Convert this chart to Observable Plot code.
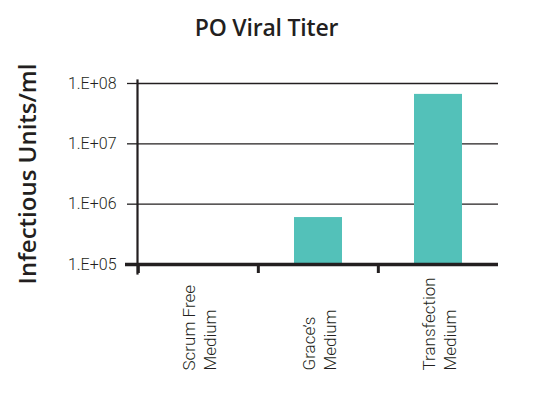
<!DOCTYPE html>
<html>
<head>
<meta charset="utf-8">
<script src="https://cdn.jsdelivr.net/npm/d3@7"></script>
<script src="https://cdn.jsdelivr.net/npm/@observablehq/plot@0.6"></script>
<style>
  html, body { margin: 0; padding: 0; background: #fff; }
  #wrap { width: 543px; height: 395px; position: relative; font-family: "Open Sans", sans-serif; color: #231f20; }
  #title { width: 533px; height: 50px; text-align: center; font-size: 23px; font-weight: 600; line-height: 54px; letter-spacing: -0.2px; }
</style>
</head>
<body>
<div id="wrap">
  <div id="title">PO Viral Titer</div>
  <div id="chart"></div>
</div>
<script>
const categories = ["Scrum Free Medium", "Grace’s Medium", "Transfection Medium"];
const categoryLabels = ["Scrum Free\nMedium", "Grace’s\nMedium", "Transfection\nMedium"];
const titers = [null, 6.0e5, 6.6e7];
const yTicks = [1e5, 1e6, 1e7, 1e8];
const yTickLabels = ["1.E+05", "1.E+06", "1.E+07", "1.E+08"];
const yLabel = "Infectious Units/ml";

const data = categories.map((c, i) => ({category: c, titer: titers[i]})).filter(d => d.titer != null);

const ink = "#231f20";
const W = 543, H = 345, mL = 137, mR = 45, mT = 33, mB = 131;
const step = (W - mL - mR) / categories.length;

const chart = Plot.plot({
  width: W,
  height: H,
  marginLeft: mL,
  marginRight: mR,
  marginTop: mT,
  marginBottom: mB,
  style: {fontFamily: "Roboto, sans-serif", color: ink, background: "#fff", overflow: "visible"},
  x: {domain: categories, paddingInner: 0.6, paddingOuter: 0.3},
  y: {type: "log", domain: [1e5, 1e8]},
  marks: [
    Plot.ruleY(yTicks.slice(1), {stroke: ink, strokeWidth: 1.3}),
    Plot.barY(data, {x: "category", y1: 1e5, y2: "titer", fill: "#53c1b9"}),
    Plot.ruleY([1e5], {stroke: ink, strokeWidth: 3.5, insetLeft: -12}),
    Plot.frame({anchor: "left", stroke: ink, strokeWidth: 2.2, insetTop: -3, insetBottom: -9}),
    Plot.axisY({ticks: yTicks, tickFormat: d => yTickLabels[yTicks.indexOf(d)], tickSize: 10, tickPadding: 11, fontSize: 16, fontWeight: 300, stroke: ink, strokeWidth: 1.3, label: null}),
    Plot.axisX({tickSize: 9, tickFormat: null, dx: -step / 2, stroke: ink, strokeWidth: 3, label: null}),
    Plot.text(categories, {x: d => d, text: (d, i) => categoryLabels[i], frameAnchor: "bottom", rotate: -90, textAnchor: "start", lineAnchor: "middle", lineHeight: 1.25, dy: 106, fontSize: 17, fontWeight: 300, fill: ink}),
    Plot.text([yLabel], {frameAnchor: "left", text: d => d, rotate: -90, dx: -109, textAnchor: "middle", lineAnchor: "middle", fontSize: 24, fontWeight: 600, fontFamily: "'Open Sans', sans-serif", fill: ink})
  ]
});
document.getElementById("chart").appendChild(chart);
</script>
</body>
</html>
